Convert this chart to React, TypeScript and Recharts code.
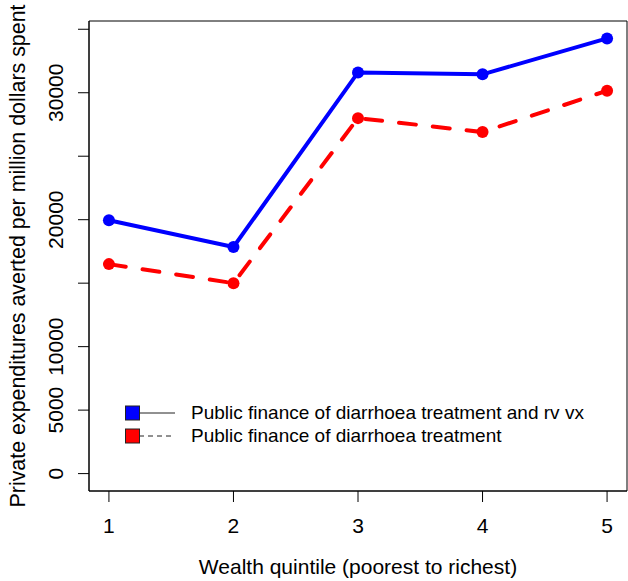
import React from 'react';
import { LineChart, Line, XAxis, YAxis, ReferenceArea, Legend } from 'recharts';

const quintiles = [1, 2, 3, 4, 5];
const withVaccine = [19950, 17850, 31600, 31450, 34280];
const treatmentOnly = [16500, 15000, 28000, 26900, 30160];
const yTicks = [0, 5000, 10000, 15000, 20000, 25000, 30000, 35000];
const yLabeled = [0, 5000, 10000, 20000, 30000];
const xTicks = [1, 2, 3, 4, 5];

const X_DOMAIN: [number, number] = [0.84, 5.16];
const Y_DOMAIN: [number, number] = [-1371, 35651];

const FONT = '"Liberation Sans", Arial, sans-serif';
const BLUE = '#0000ff';
const RED = '#ff0000';

const data = quintiles.map((q, i) => ({ q, blue: withVaccine[i], red: treatmentOnly[i] }));

const YTick = (props: any) => {
    const { x, y, payload } = props;
    if (!yLabeled.includes(payload.value)) return <g />;
    return (
        <text x={x} y={y} transform={`rotate(-90, ${x}, ${y})`} textAnchor="middle"
            fontSize={21} fontFamily={FONT} fill="#000">
            {payload.value}
        </text>
    );
};

const legendItems = [
    { label: 'Public finance of diarrhoea treatment and rv vx', color: BLUE, dash: undefined },
    { label: 'Public finance of diarrhoea treatment', color: RED, dash: '5 4' },
];

const LegendBox = () => (
    <div style={{ fontFamily: FONT, fontSize: 19, color: '#000' }}>
        {legendItems.map((item) => (
            <div key={item.label} style={{ display: 'flex', alignItems: 'center', height: 23.6 }}>
                <svg width={67} height={16} style={{ flex: 'none' }}>
                    <line x1={15} y1={8} x2={51} y2={8} stroke="#222" strokeWidth={1} strokeDasharray={item.dash} />
                    <rect x={1.5} y={1} width={14} height={14} fill={item.color} stroke="#222" strokeWidth={1} />
                </svg>
                <span style={{ whiteSpace: 'nowrap' }}>{item.label}</span>
            </div>
        ))}
    </div>
);

export default function App() {
    return (
        <div style={{ position: 'absolute', left: 0, top: 0, width: 628, height: 581, background: '#fff' }}>
            <LineChart width={628} height={581} data={data} margin={{ top: 21, right: 1, bottom: 0, left: 0 }}>
                <XAxis
                    dataKey="q" type="number" domain={X_DOMAIN} ticks={xTicks}
                    height={90} tickSize={11} tickMargin={16}
                    axisLine={{ stroke: '#000' }} tickLine={{ stroke: '#000' }}
                    tick={{ fontSize: 21, fontFamily: FONT, fill: '#000' }}
                    label={{ value: 'Wealth quintile (poorest to richest)', position: 'insideBottom', offset: 7, fontSize: 21, fontFamily: FONT, fill: '#000' }}
                />
                <YAxis
                    type="number" domain={Y_DOMAIN} ticks={yTicks} width={89}
                    tickSize={11} tickMargin={15} interval={0}
                    axisLine={{ stroke: '#000' }} tickLine={{ stroke: '#000' }}
                    tick={<YTick />}
                    label={{ value: 'Private expenditures averted per million dollars spent', angle: -90, position: 'insideLeft', offset: 17, fontSize: 21.4, fontFamily: FONT, fill: '#000', style: { textAnchor: 'middle' } }}
                />
                <ReferenceArea x1={X_DOMAIN[0]} x2={X_DOMAIN[1]} y1={Y_DOMAIN[0]} y2={Y_DOMAIN[1]}
                    fill="none" stroke="#000" strokeWidth={1} fillOpacity={0} />
                <Line dataKey="red" stroke={RED} strokeWidth={4} strokeDasharray="17 17" strokeLinecap="round"
                    dot={{ r: 6, fill: RED, stroke: RED, strokeWidth: 0, strokeDasharray: 'none' }}
                    isAnimationActive={false} />
                <Line dataKey="blue" stroke={BLUE} strokeWidth={4} strokeLinecap="round"
                    dot={{ r: 6, fill: BLUE, stroke: BLUE, strokeWidth: 0 }}
                    isAnimationActive={false} />
                <Legend layout="horizontal" verticalAlign="middle" align="center" content={<LegendBox />}
                    wrapperStyle={{ left: 124, top: 401, width: 500, height: 48 }} />
            </LineChart>
        </div>
    );
}
